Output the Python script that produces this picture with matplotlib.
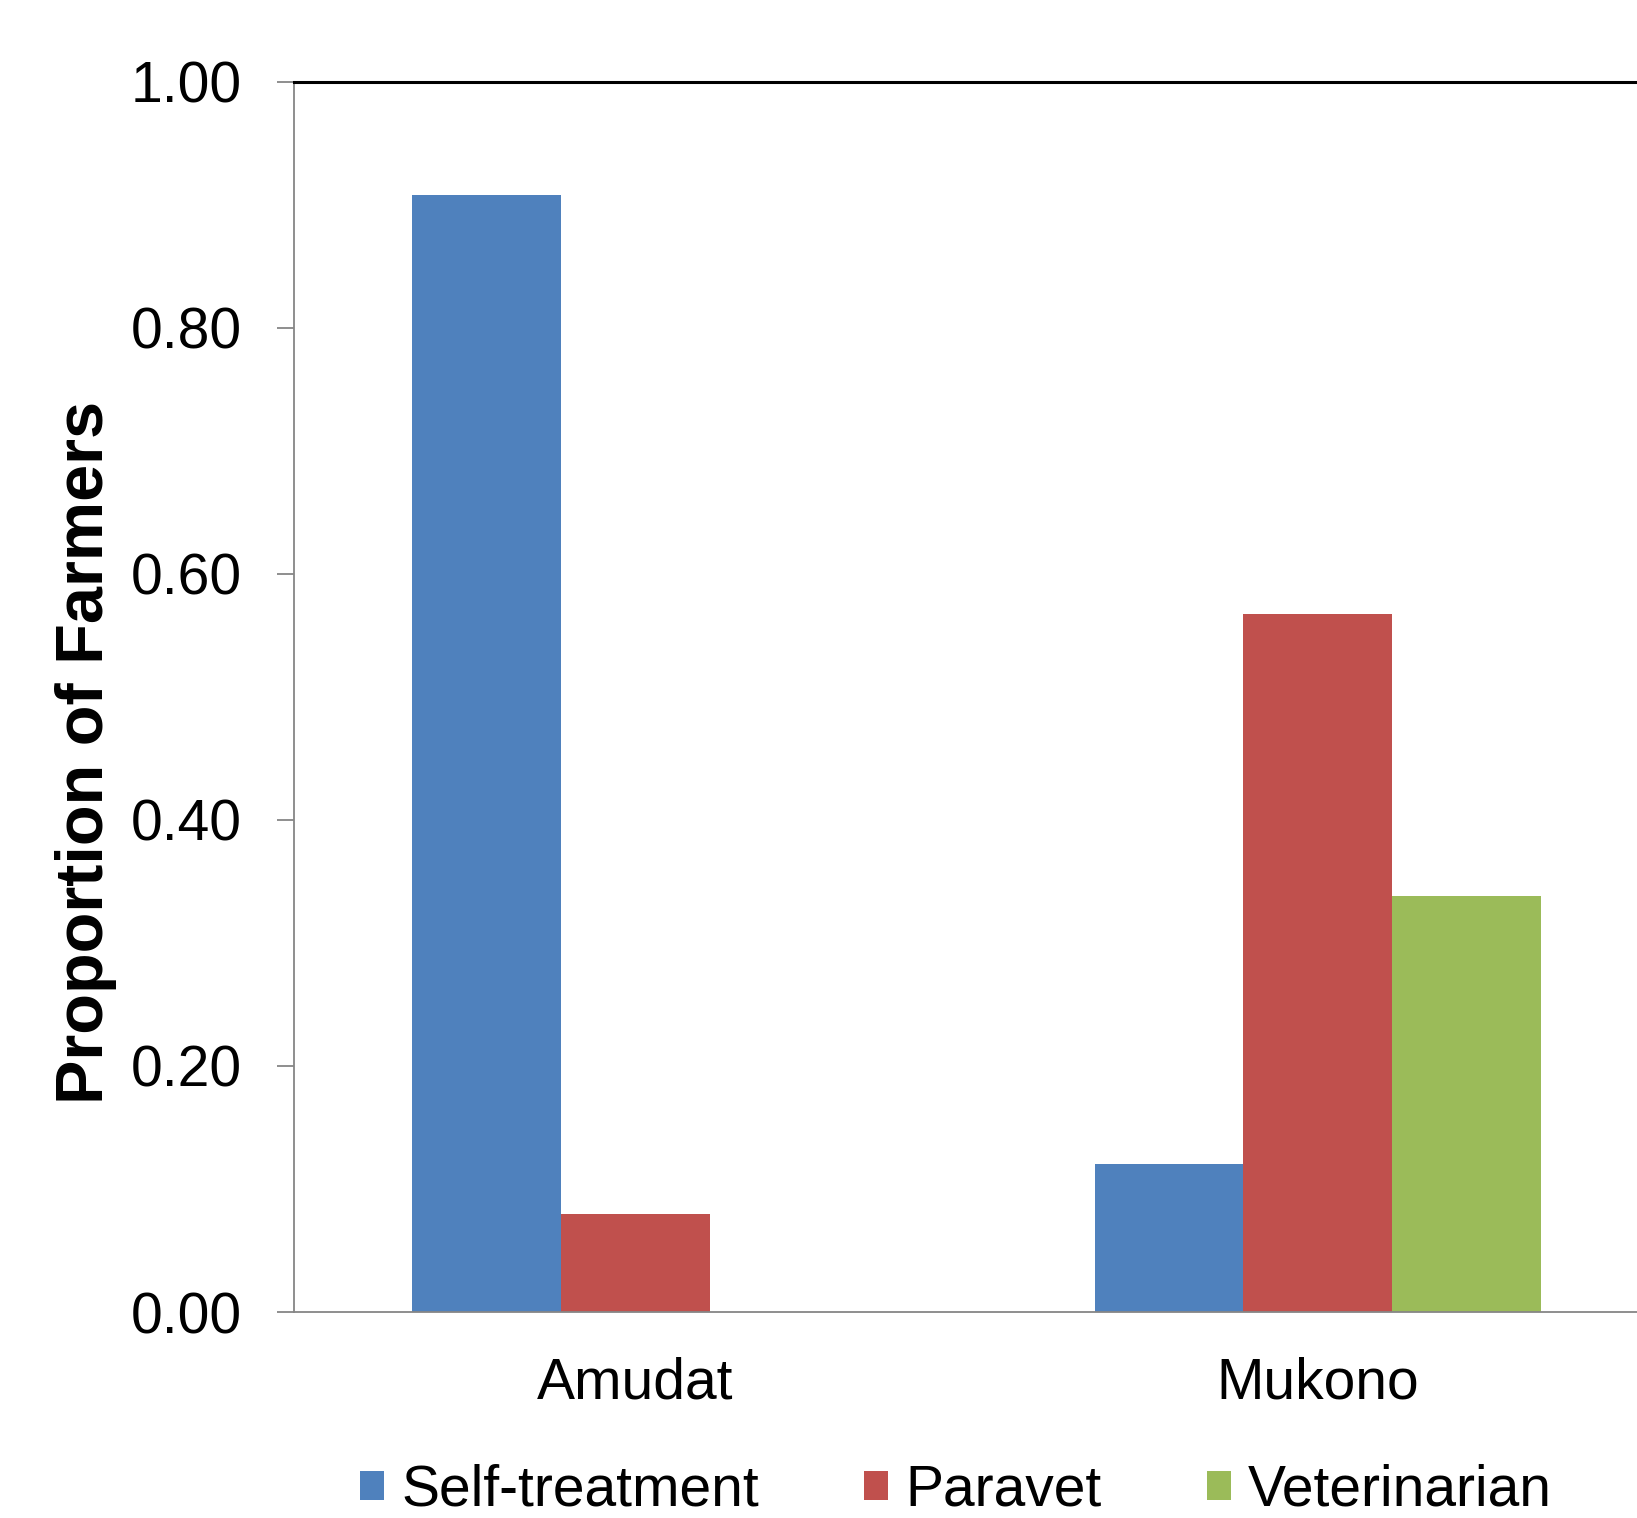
import matplotlib
matplotlib.use("Agg")
import matplotlib.pyplot as plt
from matplotlib.patches import Patch
import numpy as np

categories = ["Amudat", "Mukono"]
series_names = ["Self-treatment", "Paravet", "Veterinarian"]
self_treatment = [0.908, 0.12]
paravet = [0.08, 0.567]
veterinarian = [0.00, 0.338]
yticks = [0.0, 0.2, 0.4, 0.6, 0.8, 1.0]
ytick_labels = ["0.00", "0.20", "0.40", "0.60", "0.80", "1.00"]

colors = ["#4F81BD", "#C0504D", "#9BBB59"]

plt.rcParams['font.family'] = ['Liberation Sans', 'DejaVu Sans']

fig = plt.figure(figsize=(16.37, 15.18), dpi=100)
ax = fig.add_axes([0.1797, 0.1357, 1.0134 - 0.1797, 0.9463 - 0.1357])

x = np.arange(len(categories))
w = 0.218
for i, (vals, c) in enumerate(zip([self_treatment, paravet, veterinarian], colors)):
    ax.bar(x + (i - 1) * w, vals, width=w, color=c, edgecolor='none', zorder=2)

ax.set_xlim(-0.5, 1.5)
ax.set_ylim(0, 1.0)
ax.set_yticks(yticks)
ax.set_yticklabels(ytick_labels, fontsize=41)
ax.set_xticks(x)
ax.set_xticklabels(categories, fontsize=41)
ax.tick_params(axis='x', length=0, pad=32)
ax.tick_params(axis='y', length=12, width=1.3, color='#868686', pad=26, direction='out')

for s in ['left', 'bottom']:
    ax.spines[s].set_color('#868686')
    ax.spines[s].set_linewidth(1.3)
ax.spines['right'].set_visible(False)
ax.spines['top'].set_color('black')
ax.spines['top'].set_linewidth(2.2)

fig.text(0.0525, 0.5046, "Proportion of Farmers", rotation=90, ha='center', va='center',
         fontsize=48, fontweight='bold')

handles = [Patch(facecolor=c, edgecolor='none') for c in colors]
fig.legend(handles, series_names, loc='center', bbox_to_anchor=(0.584, 0.018), ncol=3,
           frameon=False, fontsize=41, handlelength=0.42, handleheight=0.42,
           handletextpad=0.3, columnspacing=1.85, borderpad=0, borderaxespad=0)

fig.savefig("out.png", dpi=100)
